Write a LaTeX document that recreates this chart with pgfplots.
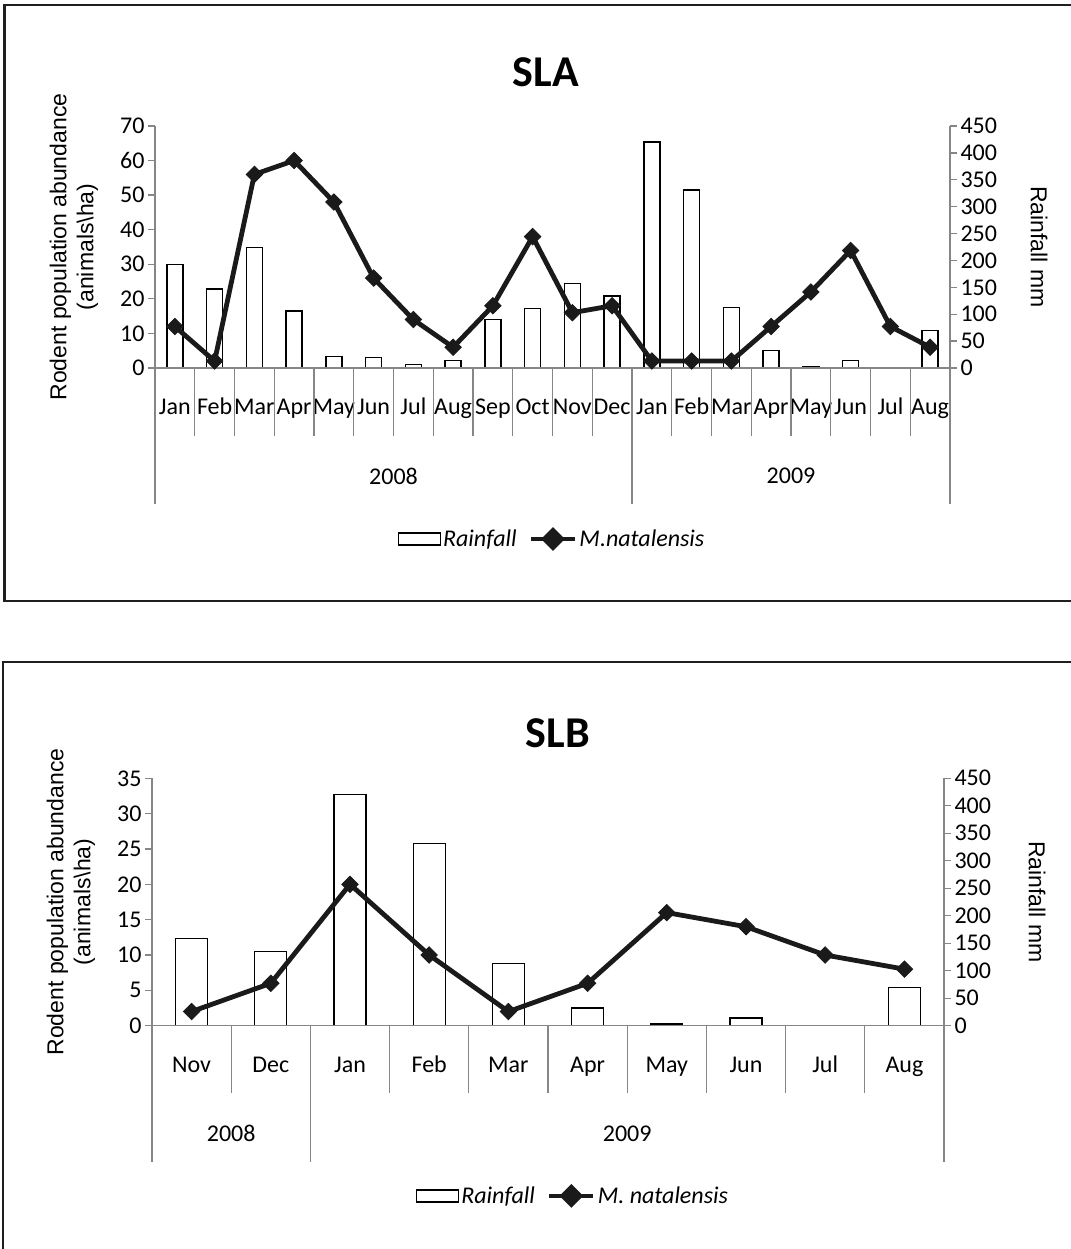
\documentclass[border=0pt]{standalone}
\usepackage{fontspec}
\setmainfont{Carlito}
\newfontfamily\arial{Liberation Sans}
\usepackage{pgfplots}
\pgfplotsset{compat=1.18}
\definecolor{axgray}{HTML}{868686}
\definecolor{ink}{HTML}{1A1A1A}

\pgfplotstableread{
x rain rodent
0 193 12
1 147 2
2 224 56
3 106 60
4 21 48
5 20 26
6 6 14
7 14 6
8 90 18
9 110 38
10 157 16
11 134 18
12 420 2
13 331 2
14 112 2
15 32 12
16 3 22
17 14 34
18 0.6 12
19 70 6
}\sla

\pgfplotstableread{
x rain rodent
0 158 2
1 135 6
2 421 20
3 331 10
4 113 2
5 32 6
6 3 16
7 14 14
8 0.6 10
9 70 8
}\slb

\tikzset{
  ylab/.style={font=\arial\fontsize{23}{27}\selectfont, align=center},
  leg/.style={draw=none, fill=none,
    font=\itshape\fontsize{24}{28}\selectfont,
    /tikz/every even column/.append style={column sep=10pt},
    nodes={inner sep=2pt}},
}
\pgfplotsset{
  base/.style={
    scale only axis, anchor=south west, clip=false,
    /pgf/number format/assume math mode=true,
    tick label style={font=\fontsize{24}{28}\selectfont},
    axis line style={axgray, line width=1.3pt, -},
    tick style={axgray, line width=1.3pt},
    tick align=outside, major tick length=7pt,
    ymin=0,
  },
  barplot/.style={ybar, fill=white, draw=black, line width=1.3pt},
  lineplot/.style={ink, line width=4.8pt, mark=square*, mark size=5.8pt,
    mark options={rotate=45, solid, fill=ink, draw=ink, line width=0.8pt}},
  barleg/.style={legend image code/.code={\draw[fill=white, draw=black, line width=1.3pt] (0pt,-6pt) rectangle (42pt,6pt);}},
  lineleg/.style={legend image code/.code={\draw[ink, line width=4.8pt] (0pt,0pt) -- (44pt,0pt);
     \fill[ink] (22pt,8.5pt) -- (30.5pt,0pt) -- (22pt,-8.5pt) -- (13.5pt,0pt) -- cycle;}},
}

\begin{document}
\begin{tikzpicture}[x=1pt,y=1pt]
\useasboundingbox (0,0) rectangle (1070,1249);
% frames
\draw[line width=2.6pt, black!88] (4.5,648) rectangle (1100,1244);
\draw[line width=2.6pt, black!88] (3,-30) rectangle (1100,587);
% ================= SLA =================
\node[font=\bfseries\fontsize{44}{50}\selectfont] at (546,1177) {SLA};
\begin{axis}[base, at={(155pt,881pt)}, width=795pt, height=242pt,
  xmin=-0.5, xmax=19.5, ymax=450,
  axis x line=none, axis y line*=right,
  ytick={0,50,...,450},
  ylabel={Rainfall mm},
  ylabel style={ylab, at={(axis description cs:1.112,0.5)}, anchor=center, rotate=180}]
\addplot[barplot, bar width=16pt] table[x=x, y=rain] {\sla};
\end{axis}
\begin{axis}[base, at={(155pt,881pt)}, width=795pt, height=242pt,
  xmin=-0.5, xmax=19.5, ymax=70,
  axis x line*=bottom, axis y line*=left,
  ytick={0,10,...,70},
  xtick={0,...,19},
  xticklabels={Jan,Feb,Mar,Apr,May,Jun,Jul,Aug,Sep,Oct,Nov,Dec,Jan,Feb,Mar,Apr,May,Jun,Jul,Aug},
  xtick style={draw=none},
  xticklabel style={anchor=base, yshift=-40pt},
  ylabel={Rodent population abundance\\(animals\textbackslash ha)},
  ylabel style={ylab, at={(axis description cs:-0.102,0.5)}, anchor=center},
  legend columns=2,
  legend style={leg, at={(axis description cs:0.4994,-0.7066)}, anchor=center}]
\draw[axgray, line width=1.3pt] (axis cs:-0.5,0) -- ++(-7pt,0pt);
\pgfplotsinvokeforeach{0.5,1.5,2.5,3.5,4.5,5.5,6.5,7.5,8.5,9.5,10.5,12.5,13.5,14.5,15.5,16.5,17.5,18.5}{
  \draw[axgray, line width=1.3pt] (axis cs:#1,0) -- ++(0pt,-68pt);}
\pgfplotsinvokeforeach{-0.5,11.5,19.5}{
  \draw[axgray, line width=1.3pt] (axis cs:#1,0) -- ++(0pt,-136pt);}
\node[font=\fontsize{24}{28}\selectfont] at ([yshift=-108pt]axis cs:5.5,0) {2008};
\node[font=\fontsize{24}{28}\selectfont] at ([yshift=-108pt]axis cs:15.5,0) {2009};
\addlegendimage{barleg}
\addlegendentry{Rainfall}
\addplot[lineplot, lineleg] table[x=x, y=rodent] {\sla};
\addlegendentry{M.natalensis}
\end{axis}
% ================= SLB =================
\node[font=\bfseries\fontsize{44}{50}\selectfont] at (558,516) {SLB};
\begin{axis}[base, at={(152pt,223.3pt)}, width=792pt, height=247.4pt,
  xmin=-0.5, xmax=9.5, ymax=450,
  axis x line=none, axis y line*=right,
  ytick={0,50,...,450},
  ylabel={Rainfall mm},
  ylabel style={ylab, at={(axis description cs:1.1174,0.5)}, anchor=center, rotate=180}]
\addplot[barplot, bar width=32pt] table[x=x, y=rain] {\slb};
\end{axis}
\begin{axis}[base, at={(152pt,223.3pt)}, width=792pt, height=247.4pt,
  xmin=-0.5, xmax=9.5, ymax=35,
  axis x line*=bottom, axis y line*=left,
  ytick={0,5,...,35},
  xtick={0,...,9},
  xticklabels={Nov,Dec,Jan,Feb,Mar,Apr,May,Jun,Jul,Aug},
  xtick style={draw=none},
  xticklabel style={anchor=base, yshift=-40pt},
  ylabel={Rodent population abundance\\(animals\textbackslash ha)},
  ylabel style={ylab, at={(axis description cs:-0.1023,0.5)}, anchor=center},
  legend columns=2,
  legend style={leg, at={(axis description cs:0.5316,-0.688)}, anchor=center}]
\draw[axgray, line width=1.3pt] (axis cs:-0.5,0) -- ++(-7pt,0pt);
\pgfplotsinvokeforeach{0.5,2.5,3.5,4.5,5.5,6.5,7.5,8.5}{
  \draw[axgray, line width=1.3pt] (axis cs:#1,0) -- ++(0pt,-67pt);}
\pgfplotsinvokeforeach{-0.5,1.5,9.5}{
  \draw[axgray, line width=1.3pt] (axis cs:#1,0) -- ++(0pt,-136pt);}
\node[font=\fontsize{24}{28}\selectfont] at ([yshift=-108pt]axis cs:0.5,0) {2008};
\node[font=\fontsize{24}{28}\selectfont] at ([yshift=-108pt]axis cs:5.5,0) {2009};
\addlegendimage{barleg}
\addlegendentry{Rainfall}
\addplot[lineplot, lineleg] table[x=x, y=rodent] {\slb};
\addlegendentry{M. natalensis}
\end{axis}
\end{tikzpicture}
\end{document}
